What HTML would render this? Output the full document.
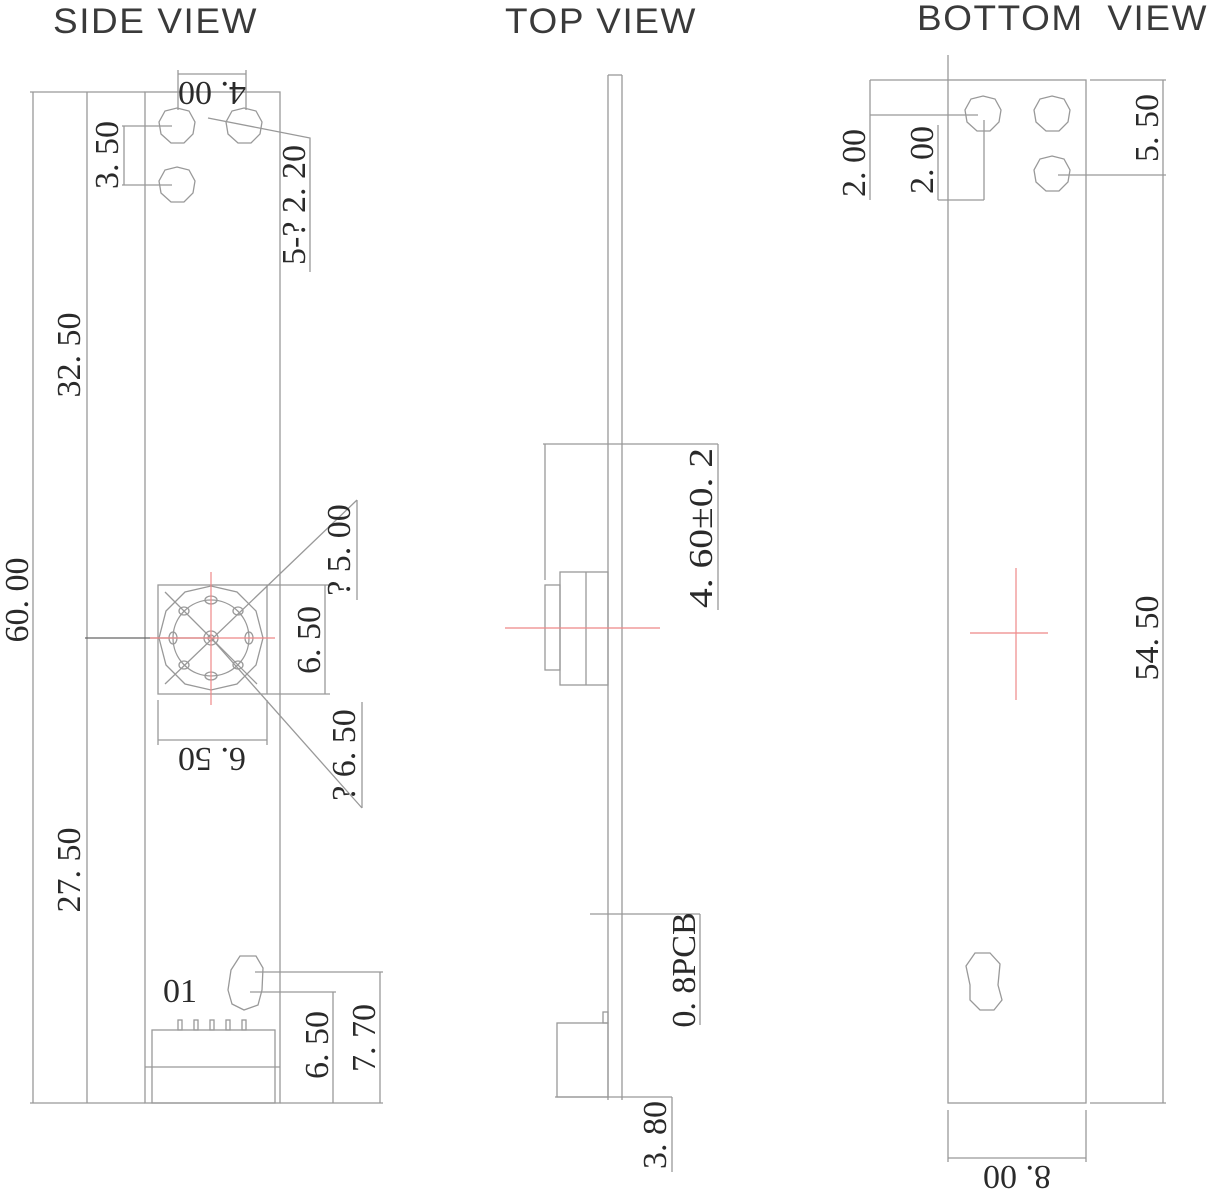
<!DOCTYPE html>
<html><head><meta charset="utf-8"><style>
html,body{margin:0;padding:0;background:#fff;}
svg{display:block;}
.t{font-family:"Liberation Sans",sans-serif;font-size:35px;fill:#3a3a3a;letter-spacing:1.5px;}
.d{font-family:"Liberation Serif",serif;font-size:34px;fill:#2a2a2a;}
</style></head><body>
<svg width="1213" height="1192" viewBox="0 0 1213 1192" xmlns="http://www.w3.org/2000/svg">
<g fill="none" stroke="#999" stroke-width="1.3">
<!-- SIDE VIEW -->
<rect x="145" y="92" width="135" height="1011"/>
<line x1="30" y1="92" x2="145" y2="92"/>
<line x1="30" y1="1103" x2="145" y2="1103"/>
<line x1="33" y1="92" x2="33" y2="1103"/>
<line x1="87" y1="92" x2="87" y2="1103"/>
<line x1="85" y1="638" x2="210" y2="638" stroke="#666"/>
<line x1="178" y1="70" x2="178" y2="110"/><line x1="246" y1="70" x2="246" y2="110"/>
<line x1="178" y1="74" x2="246" y2="74"/>
<polygon points="177,108 189,111 195,122 193,134 184,143 171,143 161,134 159,122 165,111"/>
<polygon points="244,108 256,111 262,122 260,134 251,143 238,143 228,134 226,122 232,111"/>
<polygon points="177,167 189,170 195,181 193,193 184,202 171,202 161,193 159,181 165,170"/>
<line x1="122" y1="126" x2="172" y2="126"/><line x1="122" y1="185" x2="172" y2="185"/>
<line x1="124" y1="126" x2="124" y2="185"/>
<polyline points="208,118 310,138 310,272"/>
<!-- camera -->
<rect x="158" y="585" width="109" height="109"/>
<polygon points="211,586 237,592 256,611 263,638 256,665 237,684 211,690 185,684 166,665 159,638 166,611 185,592"/>
<circle cx="211" cy="638" r="38"/>
<circle cx="211" cy="638" r="7"/><circle cx="211" cy="638" r="3"/>
<ellipse cx="211" cy="600" rx="6" ry="4"/><ellipse cx="211" cy="676" rx="6" ry="4"/>
<ellipse cx="173" cy="638" rx="4" ry="6"/><ellipse cx="249" cy="638" rx="4" ry="6"/>
<ellipse cx="184" cy="611" rx="5" ry="4"/><ellipse cx="238" cy="611" rx="5" ry="4"/>
<ellipse cx="184" cy="665" rx="5" ry="4"/><ellipse cx="238" cy="665" rx="5" ry="4"/>
<line x1="165" y1="592" x2="257" y2="684"/>
<line x1="165" y1="684" x2="357" y2="500"/>
<line x1="211" y1="638" x2="362" y2="808"/>
<line x1="357" y1="500" x2="357" y2="600"/>
<line x1="362" y1="702" x2="362" y2="808"/>
<line x1="267" y1="585" x2="330" y2="585"/><line x1="267" y1="694" x2="330" y2="694"/>
<line x1="325" y1="585" x2="325" y2="694"/>
<line x1="158" y1="700" x2="158" y2="745"/><line x1="267" y1="700" x2="267" y2="745"/>
<line x1="158" y1="740" x2="267" y2="740"/>
<!-- connector -->
<rect x="152" y="1030" width="123" height="73"/>
<line x1="145" y1="1067" x2="280" y2="1067"/>
<rect x="178" y="1020" width="4" height="10"/><rect x="194" y="1020" width="4" height="10"/><rect x="210" y="1020" width="4" height="10"/><rect x="226" y="1020" width="4" height="10"/><rect x="242" y="1020" width="4" height="10"/>
<path d="M240,956 L256,956 L263,968 L262,990 L258,1005 L244,1010 L232,1004 L228,990 L231,970 Z"/>
<line x1="255" y1="972" x2="383" y2="972"/><line x1="250" y1="992" x2="336" y2="992"/>
<line x1="280" y1="1103" x2="383" y2="1103"/>
<line x1="380" y1="972" x2="380" y2="1103"/><line x1="333" y1="992" x2="333" y2="1103"/>
<!-- TOP VIEW -->
<line x1="608" y1="75" x2="608" y2="1100"/>
<line x1="622" y1="75" x2="622" y2="1100"/>
<line x1="608" y1="75" x2="622" y2="75"/>
<rect x="545" y="585" width="15" height="85"/>
<rect x="560" y="572" width="48" height="113"/>
<line x1="586" y1="572" x2="586" y2="685"/>
<line x1="543" y1="444" x2="718" y2="444"/>
<line x1="545" y1="444" x2="545" y2="580"/>
<line x1="718" y1="444" x2="718" y2="610"/>
<line x1="590" y1="914" x2="700" y2="914"/>
<line x1="700" y1="914" x2="700" y2="1025"/>
<rect x="557" y="1023" width="51" height="74"/>
<rect x="603" y="1012" width="5" height="11"/>
<line x1="555" y1="1097" x2="672" y2="1097"/>
<line x1="672" y1="1097" x2="672" y2="1172"/>
<!-- BOTTOM VIEW -->
<rect x="948" y="80" width="138" height="1023"/>
<line x1="948" y1="55" x2="948" y2="80"/>
<line x1="870" y1="80" x2="948" y2="80"/>
<line x1="1090" y1="80" x2="1166" y2="80"/>
<line x1="870" y1="80" x2="870" y2="200"/>
<line x1="870" y1="115" x2="978" y2="115"/>
<line x1="938" y1="125" x2="938" y2="200"/>
<line x1="938" y1="200" x2="984" y2="200"/>
<line x1="984" y1="120" x2="984" y2="200"/>
<polygon points="983,96 995,99 1001,110 999,122 990,131 977,131 967,122 965,110 971,99"/>
<polygon points="1052,96 1064,99 1070,110 1068,122 1059,131 1046,131 1036,122 1034,110 1040,99"/>
<polygon points="1052,156 1064,159 1070,170 1068,182 1059,191 1046,191 1036,182 1034,170 1040,159"/>
<line x1="1058" y1="175" x2="1166" y2="175"/>
<line x1="1163" y1="80" x2="1163" y2="1103"/>
<line x1="1090" y1="1103" x2="1166" y2="1103"/>
<path d="M975,953 L990,953 L1000,964 L998,985 L1002,1000 L994,1010 L980,1010 L970,1000 L970,985 L966,966 Z"/>
<line x1="948" y1="1110" x2="948" y2="1162"/><line x1="1086" y1="1110" x2="1086" y2="1162"/>
<line x1="948" y1="1158" x2="1086" y2="1158"/>
</g>
<g stroke="#e88" stroke-width="1.2">
<line x1="211" y1="572" x2="211" y2="705"/><line x1="150" y1="638" x2="275" y2="638"/>
<line x1="505" y1="628" x2="660" y2="628"/>
<line x1="1016" y1="568" x2="1016" y2="700"/><line x1="970" y1="633" x2="1048" y2="633"/>
</g>
<text class="t" x="53" y="33" textLength="205" lengthAdjust="spacingAndGlyphs">SIDE VIEW</text>
<text class="t" x="505" y="33" textLength="192" lengthAdjust="spacingAndGlyphs">TOP VIEW</text>
<text class="t" x="917" y="30" textLength="291" lengthAdjust="spacingAndGlyphs" xml:space="preserve">BOTTOM  VIEW</text>
<g class="d" text-anchor="middle">
<text transform="translate(212,82) rotate(180)">4. 00</text>
<text transform="translate(118,155) rotate(-90)">3. 50</text>
<text transform="translate(305,205) rotate(-90)">5-? 2. 20</text>
<text transform="translate(80,355) rotate(-90)">32. 50</text>
<text transform="translate(28,600) rotate(-90)">60. 00</text>
<text transform="translate(80,870) rotate(-90)">27. 50</text>
<text transform="translate(350,550) rotate(-90)">? 5. 00</text>
<text transform="translate(320,640) rotate(-90)">6. 50</text>
<text transform="translate(212,748) rotate(180)">6. 50</text>
<text transform="translate(355,755) rotate(-90)">? 6. 50</text>
<text x="180" y="1002" text-anchor="middle">01</text>
<text transform="translate(328,1045) rotate(-90)">6. 50</text>
<text transform="translate(375,1038) rotate(-90)">7. 70</text>
<text transform="translate(712,528) rotate(-90)" textLength="160" lengthAdjust="spacingAndGlyphs">4. 60±0. 2</text>
<text transform="translate(695,970) rotate(-90)">0. 8PCB</text>
<text transform="translate(666,1135) rotate(-90)">3. 80</text>
<text transform="translate(865,163) rotate(-90)">2. 00</text>
<text transform="translate(933,160) rotate(-90)">2. 00</text>
<text transform="translate(1158,128) rotate(-90)">5. 50</text>
<text transform="translate(1158,638) rotate(-90)">54. 50</text>
<text transform="translate(1017,1166) rotate(180)">8. 00</text>
</g>
</svg>
</body></html>
